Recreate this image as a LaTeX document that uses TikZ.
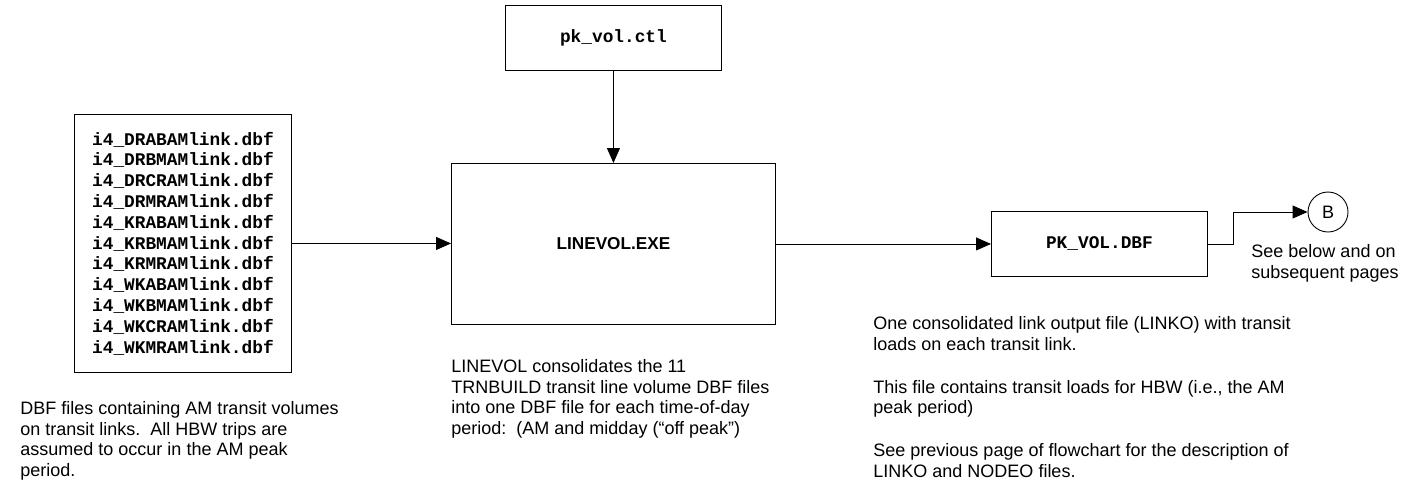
\documentclass[tikz,border=0pt]{standalone}
\usepackage{fontspec}
\setmainfont{Liberation Sans}
\newfontfamily\monob{Liberation Mono}
\usetikzlibrary{arrows.meta}
\begin{document}
\begin{tikzpicture}[x=1pt,y=-1pt, line width=0.9pt,
  box/.style={draw, rectangle, inner sep=0pt, anchor=north west},
  fname/.style={font=\fontsize{17.8}{20.8}\monob\bfseries, align=left},
  lbl/.style={font=\fontsize{18}{20.5}\selectfont, align=left, inner sep=0pt, anchor=base west},
  arr/.style={-{Triangle[length=15pt,width=13pt]}}]
\useasboundingbox (0,0) rectangle (1406,488);

\node[box, fname, minimum width=217pt, minimum height=258pt] (files) at (74,114)
 {i4\_DRABAMlink.dbf\\ i4\_DRBMAMlink.dbf\\ i4\_DRCRAMlink.dbf\\ i4\_DRMRAMlink.dbf\\
  i4\_KRABAMlink.dbf\\ i4\_KRBMAMlink.dbf\\ i4\_KRMRAMlink.dbf\\ i4\_WKABAMlink.dbf\\
  i4\_WKBMAMlink.dbf\\ i4\_WKCRAMlink.dbf\\ i4\_WKMRAMlink.dbf};
\node[box, fname, minimum width=216pt, minimum height=65pt] (ctl) at (505,5) {pk\_vol.ctl};
\node[box, font=\fontsize{17.2}{20}\selectfont\bfseries, minimum width=324pt, minimum height=161pt] (linevol) at (451,163) {LINEVOL.EXE};
\node[box, fname, minimum width=216pt, minimum height=65pt] (pk) at (991,211) {PK\_VOL.DBF};
\node[draw, circle, minimum size=40pt, inner sep=0pt, font=\fontsize{18}{20}\selectfont] (B) at (1328,212) {B};

\draw[arr] (files.east) -- (files.east -| linevol.west);
\draw[arr] (ctl.south) -- (linevol.north);
\draw[arr] (linevol.east) -- (pk.west);
\draw[arr] (pk.east) -- ++(26,0) |- (B.west);

% base anchor of a multi-line node is the baseline of its last line
\node[lbl] (seeb) at (1251,278) {See below and on\\ subsequent pages};
\node[lbl] (t1) at (20,476) {DBF files containing AM transit volumes\\ on transit links.\ \ All HBW trips are\\ assumed to occur in the AM peak\\ period.};
\node[lbl] (t2) at (451,434) {LINEVOL consolidates the 11\\ TRNBUILD transit line volume DBF files\\ into one DBF file for each time-of-day\\ period:\ \ (AM and midday (“off peak”)};
\node[lbl] (t3) at (873,477) {One consolidated link output file (LINKO) with transit\\ loads on each transit link.\\[22.5pt] This file contains transit loads for HBW (i.e., the AM\\ peak period)\\[22.5pt] See previous page of flowchart for the description of\\ LINKO and NODEO files.};
\end{tikzpicture}
\end{document}
